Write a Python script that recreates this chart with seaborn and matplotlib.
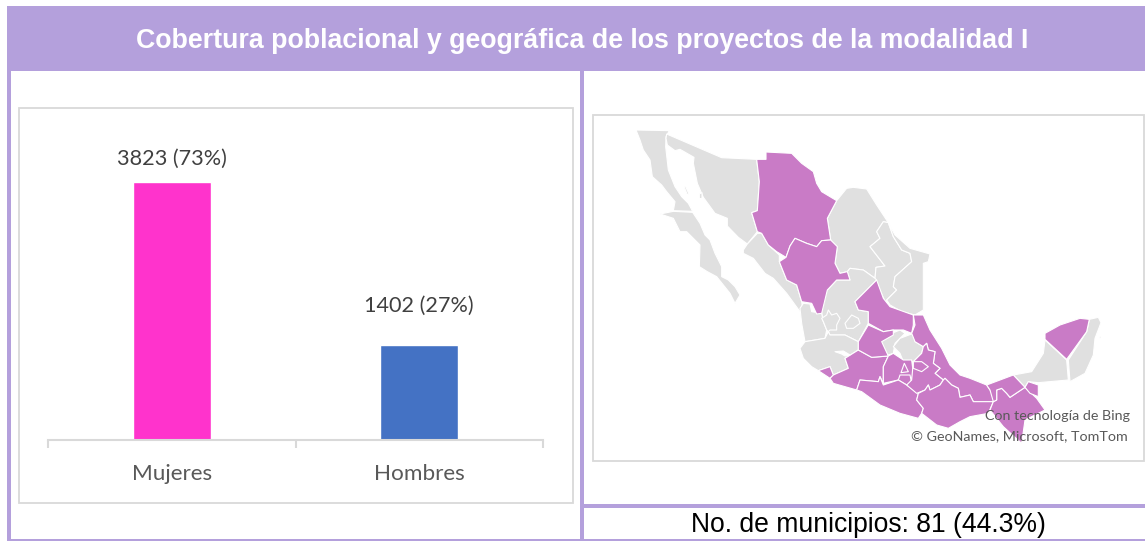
import matplotlib
matplotlib.use("Agg")
import matplotlib.pyplot as plt
from matplotlib.patches import Polygon, Rectangle
import seaborn as sns
import pandas as pd

W, H = 1145, 541
PURPLE = "#B4A0DC"
MAPC = "#C97BC6"
LAND = "#E0E0E0"
PANEL = "#D9D9D9"

categories = ["Mujeres", "Hombres"]
values = [3823, 1402]
bar_labels = ["3823 (73%)", "1402 (27%)"]
bar_colors = ["#FF33CC", "#4472C4"]
title = "Cobertura poblacional y geográfica de los proyectos de la modalidad I"
footer = "No. de municipios: 81 (44.3%)"

# Outline sketches of the states, in crop coordinates: (left, top) + points at 3x
N = (620, 120)
A = (795, 280)
B = (880, 310)
C = (970, 310)
regions = [
    # grey states
    (N, LAND, [(48,30),(148,32),(138,50),(137,80),(145,150),(165,200),(185,230),(205,250),(218,274),(160,272),(165,245),(140,215),(125,195),(97,170),(90,120),(70,90),(60,60)]),
    (N, LAND, [(120,282),(160,274),(218,277),(240,310),(255,345),(270,360),(285,400),(305,440),(305,470),(325,480),(345,500),(360,525),(345,550),(330,520),(290,470),(262,455),(238,440),(240,375),(200,335),(180,335),(160,295)]),
    (N, LAND, [(140,42),(305,113),(410,118),(418,185),(412,272),(395,278),(412,335),(382,372),(355,352),(322,318),(322,295),(285,280),(250,232),(232,190),(220,130),(222,112),(180,88),(165,92),(142,75),(138,55)]),
    (N, LAND, [(238,222),(246,218),(246,235),(238,236)]),
    (N, LAND, [(192,200),(197,200),(207,222),(202,224)]),
    (N, LAND, [(382,372),(412,340),(425,340),(445,375),(478,405),(478,425),(500,480),(530,495),(545,545),(550,580),(540,575),(500,520),(460,475),(435,460),(400,415),(370,400),(370,390)]),
    (N, LAND, [(650,242),(680,205),(700,202),(740,207),(770,255),(805,308),(790,305),(770,335),(780,355),(750,380),(795,438),(768,442),(765,475),(730,450),(690,445),(682,455),(660,460),(645,430),(652,380),(632,360),(622,295)]),
    (N, LAND, [(805,308),(820,350),(845,390),(870,400),(875,425),(825,470),(820,500),(830,510),(810,530),(795,545),(780,510),(765,475),(768,442),(795,438),(750,380),(780,355),(770,335),(790,305)]),
    (N, LAND, [(805,308),(825,345),(870,385),(930,402),(925,425),(910,430),(910,570),(885,585),(845,575),(810,555),(800,540),(810,530),(830,510),(820,500),(825,470),(875,425),(870,400),(845,390),(820,350)]),
    (A, LAND, [(80,100),(85,50),(97,30),(125,0),(165,0),(157,-25),(165,-35),(205,-30),(240,-5),(245,0),(180,65),(190,90),(220,95),(220,130),(190,185),(150,165),(105,165),(100,155),(95,150),(85,125)]),
    (A, LAND, [(15,85),(25,70),(45,72),(50,95),(80,100),(85,125),(95,150),(90,175),(60,180),(30,185),(20,130)]),
    (A, LAND, [(15,205),(30,185),(60,180),(90,175),(100,155),(105,165),(150,165),(190,185),(190,210),(150,235),(160,265),(115,285),(105,260),(70,272),(50,260),(25,235)]),
    (A, LAND, [(150,130),(170,105),(190,115),(195,130),(175,145),(155,145)]),
    (A, LAND, [(80,115),(95,105),(100,90),(110,105),(125,100),(135,115),(125,135),(125,150),(105,150),(100,155),(95,150),(85,125)]),
    (B, LAND, [(0,95),(35,70),(60,60),(75,70),(45,100),(40,130),(25,135),(10,125)]),
    (B, LAND, [(40,110),(60,85),(100,70),(105,95),(130,110),(125,130),(100,155),(70,155),(60,130)]),
    (C, LAND, [(225,90),(290,150),(295,210),(205,218),(175,215),(165,232),(130,195),(185,185),(220,130)]),
    (C, LAND, [(358,28),(385,22),(393,38),(375,85),(370,135),(345,190),(300,215),(295,150),(350,65)]),
    (C, LAND, [(388,78),(392,78),(393,86),(388,86)]),
    # highlighted states
    (N, MAPC, [(410,118),(438,118),(438,96),(515,100),(545,130),(580,155),(590,190),(605,215),(650,242),(622,295),(632,360),(605,362),(590,380),(560,370),(525,355),(510,378),(498,412),(470,395),(445,375),(425,340),(412,335),(395,278),(412,272),(418,185)]),
    (N, MAPC, [(525,355),(560,370),(590,380),(605,362),(632,360),(652,380),(645,430),(660,460),(682,455),(690,480),(650,480),(622,510),(605,580),(590,582),(575,550),(545,545),(530,495),(500,480),(478,425),(498,412),(510,378)]),
    (A, MAPC, [(180,65),(245,0),(265,55),(285,80),(355,105),(355,135),(350,160),(325,150),(295,150),(265,155),(220,130),(220,95),(190,90)]),
    (A, MAPC, [(70,272),(105,260),(115,285),(105,295)]),
    (A, MAPC, [(105,295),(115,285),(160,265),(150,235),(190,210),(230,232),(280,228),(265,260),(265,310),(255,290),(250,305),(195,300),(185,330),(115,310)]),
    (A, MAPC, [(220,135),(265,155),(295,150),(295,165),(260,185),(280,228),(230,232),(190,210),(190,185)]),
    (A, MAPC, [(280,228),(295,220),(325,240),(350,240),(355,280),(345,310),(320,295),(310,300),(265,310),(265,260)]),
    (A, MAPC, [(315,285),(345,285),(350,310),(335,315),(310,300)]),
    (A, MAPC, [(328,250),(340,275),(318,278)]),
    (A, MAPC, [(185,330),(195,300),(250,305),(255,290),(265,315),(310,300),(335,315),(370,340),(365,360),(385,385),(380,400),(370,415),(315,400),(255,375),(200,335)]),
    (B, MAPC, [(100,15),(130,15),(150,60),(185,115),(210,165),(240,195),(270,205),(320,225),(330,240),(345,255),(340,275),(280,275),(270,255),(240,262),(235,235),(215,225),(195,205),(190,210),(165,190),(180,175),(160,160),(165,125),(145,120),(140,100),(130,110),(105,95),(95,70),(105,45)]),
    (B, MAPC, [(130,110),(140,100),(145,120),(165,125),(160,160),(180,175),(165,190),(190,210),(180,225),(150,240),(145,225),(135,240),(110,250),(80,225),(95,210),(100,155),(125,130)]),
    (B, MAPC, [(100,155),(125,155),(145,170),(125,185),(100,175)]),
    (B, MAPC, [(115,250),(135,240),(145,225),(150,240),(180,225),(190,210),(195,205),(215,225),(235,235),(240,262),(270,255),(280,275),(340,275),(325,310),(270,320),(240,335),(205,355),(170,345),(125,310),(130,295),(110,270)]),
    (C, MAPC, [(70,275),(80,270),(80,240),(95,235),(110,250),(120,262),(165,232),(200,265),(225,300),(165,330),(155,400),(100,350),(60,300)]),
    (C, MAPC, [(50,225),(90,210),(130,195),(165,232),(120,262),(110,250),(95,235),(80,240),(80,270),(70,275),(60,240)]),
    (C, MAPC, [(165,232),(175,215),(205,225),(205,260),(180,250)]),
    (C, MAPC, [(225,70),(270,45),(330,25),(358,28),(350,65),(290,148),(225,88)]),
    # Lake Chapala
    (A, "white", [(120,215),(145,213),(165,225),(150,228),(140,222)]),
]

sns.set_theme(style="white")
plt.rcParams["font.family"] = ["Liberation Sans", "DejaVu Sans"]

fig = plt.figure(figsize=(W / 100, H / 100), dpi=100, facecolor="white")
bg = fig.add_axes([0, 0, 1, 1])
bg.set_xlim(0, W)
bg.set_ylim(H, 0)
bg.axis("off")

def box(x0, y0, x1, y1, **kw):
    bg.add_patch(Rectangle((x0, y0), x1 - x0, y1 - y0, **kw))

# frame
box(7, 6, 1145, 71, fc=PURPLE, ec="none")
box(7, 6, 11, 541, fc=PURPLE, ec="none")
box(580, 71, 584, 541, fc=PURPLE, ec="none")
box(584, 504, 1145, 508, fc=PURPLE, ec="none")
box(7, 539, 1145, 541, fc=PURPLE, ec="none")
bg.text(582, 41, title, color="white", fontsize=19.25, fontweight="bold",
        ha="center", va="center", family="Liberation Sans")
bg.text(868, 525, footer, color="black", fontsize=19.1, ha="center", va="center",
        family="Liberation Sans")

# panels
box(18.5, 107.5, 572.5, 502.5, fc="white", ec=PANEL, lw=1.3)
box(592.5, 114.5, 1144, 460.5, fc="white", ec=PANEL, lw=1.3)

# map
for (ox, oy), color, pts in regions:
    bg.add_patch(Polygon([(ox + x / 3, oy + y / 3) for x, y in pts], closed=True,
                         fc=color, ec="white", lw=0.8, joinstyle="round"))
bg.text(1130, 416, "Con tecnología de Bing", color="#595959", fontsize=10.3,
        ha="right", va="center", family="Lato")
bg.text(1128, 436, "© GeoNames, Microsoft, TomTom", color="#595959", fontsize=10.3,
        ha="right", va="center", family="Lato")

# bars
ax_l, ax_r, ax_b, ax_t = 48, 543, 440, 130
ax = fig.add_axes([ax_l / W, 1 - ax_b / H, (ax_r - ax_l) / W, (ax_b - ax_t) / H])
ax.patch.set_alpha(0)
df = pd.DataFrame({"cat": categories, "val": values})
sns.barplot(data=df, x="cat", y="val", hue="cat", palette=bar_colors, width=0.315,
            legend=False, saturation=1, ax=ax)
ax.set_xlim(-0.5, 1.5)
ax.set_ylim(0, 310 * values[0] / 258)
ax.set_xlabel("")
ax.set_ylabel("")
ax.set_yticks([])
for s in ("top", "left", "right"):
    ax.spines[s].set_visible(False)
ax.spines["bottom"].set_color(PANEL)
ax.spines["bottom"].set_linewidth(1.5)
ax.set_xticks([0, 1], categories)
ax.set_xticks([-0.5, 0.5, 1.5], minor=True)
ax.tick_params(axis="x", which="major", length=0, pad=17, labelsize=16.2, labelcolor="#595959")
ax.tick_params(axis="x", which="minor", length=5.5, width=1.5, color=PANEL, bottom=True)
for t in ax.get_xticklabels():
    t.set_family("Lato")
label_gaps = [16.5, 28.5]
for i, (v, lab, gap) in enumerate(zip(values, bar_labels, label_gaps)):
    ax.annotate(lab, xy=(i, v), xytext=(0, gap), textcoords="offset points",
                ha="center", va="center", fontsize=15.6, color="#404040", family="Lato",
                annotation_clip=False)

fig.savefig("out.png", dpi=100)
